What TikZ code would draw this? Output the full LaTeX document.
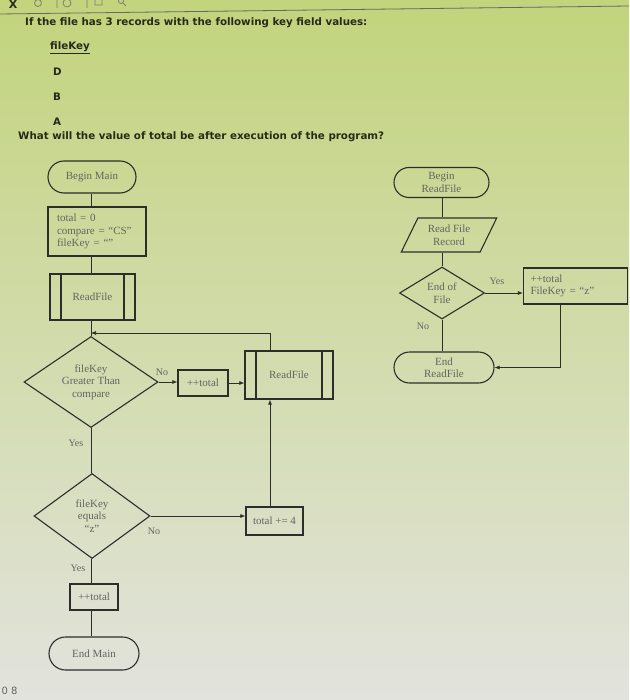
\documentclass[tikz,border=0pt]{standalone}
\usepackage{fontspec}
\usepackage{tikz}
\usetikzlibrary{shapes.geometric,shapes.misc,arrows.meta}
\newfontfamily\quizfont{DejaVu Sans}
\newfontfamily\chartfont{Liberation Serif}
\definecolor{inkline}{RGB}{45,45,42}
\definecolor{inktext}{RGB}{100,100,96}
\definecolor{quiztext}{RGB}{38,42,24}
\definecolor{screentop}{RGB}{194,212,124}
\definecolor{screenmid}{RGB}{221,229,196}
\definecolor{screenbot}{RGB}{226,227,221}

\begin{document}
\begin{tikzpicture}[x=1pt,y=-1pt,
    flowline/.style={draw=inkline,line width=0.6pt},
    flowarrow/.style={flowline,-{Latex[length=5pt,width=4pt]}},
    chart/.style={font=\chartfont\fontsize{11}{12.5}\selectfont, text=inktext, align=center, inner sep=1pt},
    terminal/.style={chart, rounded rectangle, draw=inkline, line width=1.1pt},
    procbox/.style={chart, rectangle, draw=inkline, line width=1.4pt},
    predef/.style={procbox, path picture={\draw[inkline,line width=1.1pt] ([xshift=11pt]path picture bounding box.north west) -- ([xshift=11pt]path picture bounding box.south west) ([xshift=-11pt]path picture bounding box.north east) -- ([xshift=-11pt]path picture bounding box.south east);}},
    decision/.style={chart, diamond, draw=inkline, line width=1.1pt, inner sep=0pt},
    inputbox/.style={chart, trapezium, trapezium left angle=62, trapezium right angle=118, trapezium stretches=true, draw=inkline, line width=1.1pt},
    edgelabel/.style={font=\chartfont\fontsize{10}{11}\selectfont, text=inktext, inner sep=1pt},
    quiz/.style={font=\quizfont\bfseries\fontsize{10.3}{12}\selectfont, text=quiztext, anchor=west, inner sep=0pt}]
        \useasboundingbox (0,0) rectangle (629,700);
        \shade[top color=screentop, middle color=screenmid, bottom color=screenbot] (0,0) rectangle (629,700);
        % screen edge
        \draw[quiztext!70, line width=0.8pt] (0,14) -- (629,6);
        \draw (13,4) node[font=\quizfont\bfseries\fontsize{11}{11}\selectfont, text=quiztext] (closex) {X};
        \draw[quiztext!60, line width=0.8pt] (38,3) circle (3.5) (67,3) circle (4) (57,-1) -- (57,8) (87,-1) -- (87,8) (95,-1) rectangle (102,5) (121,1) circle (2.5) (123,3) -- (126,6);
        \draw (-2,691) node[anchor=west, font=\quizfont\fontsize{10}{10}\selectfont, text=inktext] (pagenum) {0\,\,8};

        \draw (25,23) node[quiz] (q1) {If the file has 3 records with the following key field values:};
        \draw (50,48) node[quiz] (keyhead) {\underline{fileKey}};
        \foreach \k [count=\i] in {D,B,A}{
            \draw (53,47+25*\i) node[quiz] (key\i) {\k};
        }
        \draw (18,137) node[quiz] (q2) {What will the value of total be after execution of the program?};

        % main
        \coordinate (lx) at (91,0);
        \coordinate (upx) at (270,0);
        \coordinate (jn) at (91,333);
        \node[terminal, minimum width=90, minimum height=32] (bmain) at (92,177) {Begin Main};
        \node[procbox, align=left, text width=80, inner xsep=9, minimum height=49] (init) at (97,231.5) {total = 0\\compare = “CS”\\fileKey = “”};
        \node[predef, minimum width=85, minimum height=46] (rf1) at (92.5,297) {ReadFile};
        \node[decision, aspect=1.47, minimum width=134, minimum height=91] (dec1) at (91,382) {fileKey\\Greater Than\\compare};
        \node[procbox, minimum width=50, minimum height=26] (inc1) at (203,383) {++total};
        \node[predef, minimum width=88, minimum height=48] (rf2) at (289,375) {ReadFile};
        \node[decision, aspect=1.36, minimum width=116, minimum height=85] (dec2) at (92,516) {fileKey\\equals\\“z”};
        \node[procbox, minimum width=57, minimum height=28] (add4) at (274.5,521) {total += 4};
        \node[procbox, minimum width=48, minimum height=26] (inc2) at (94,597) {++total};
        \node[terminal, minimum width=92, minimum height=33] (emain) at (94,653.5) {End Main};

        \draw[flowline] (bmain.south -| lx) -- (init.north -| lx) (init.south -| lx) -- (rf1.north -| lx) (rf1.south -| lx) -- (dec1.north -| lx);
        \draw[flowarrow] (rf2.north -| upx) |- (jn);
        \draw[flowarrow] (dec1.east) -- (dec1.east -| inc1.west);
        \draw[flowarrow] (inc1.east) -- (inc1.east -| rf2.west);
        \draw[flowline] (dec1.south -| lx) -- (dec2.north -| lx);
        \draw[flowarrow] (dec2.east) -- (dec2.east -| add4.west);
        \draw[flowarrow] (add4.north -| upx) -- (rf2.south -| upx);
        \draw[flowline] (dec2.south -| lx) -- (inc2.north -| lx) (inc2.south -| lx) -- (emain.north -| lx);
        \node[edgelabel] (no1) at (162,372) {No};
        \node[edgelabel] (yes1) at (76,443) {Yes};
        \node[edgelabel] (no2) at (154,531) {No};
        \node[edgelabel] (yes2) at (78,568) {Yes};

        % readfile
        \coordinate (mx) at (442,0);
        \coordinate (rx) at (560,0);
        \node[terminal, minimum width=97, minimum height=30] (brf) at (441.5,182.5) {Begin\\ReadFile};
        \node[inputbox, minimum width=96, minimum height=34] (rec) at (449,235) {Read File\\Record};
        \node[decision, aspect=1.63, minimum width=85, minimum height=52] (dec3) at (442,293) {End of\\File};
        \node[procbox, align=left, text width=90, inner xsep=7, minimum height=36] (inc3) at (575.5,286) {++total\\FileKey = “z”};
        \node[terminal, minimum width=102, minimum height=31] (erf) at (444,367.5) {End\\ReadFile};

        \draw[flowline] (brf.south -| mx) -- (rec.north -| mx) (rec.south -| mx) -- (dec3.north -| mx) (dec3.south -| mx) -- (erf.north -| mx);
        \draw[flowarrow] (dec3.east) -- (dec3.east -| inc3.west);
        \draw[flowarrow] (inc3.south -| rx) |- (erf.east);
        \node[edgelabel] (yes3) at (497,281) {Yes};
        \node[edgelabel] (no3) at (423,326) {No};
\end{tikzpicture}
\end{document}
